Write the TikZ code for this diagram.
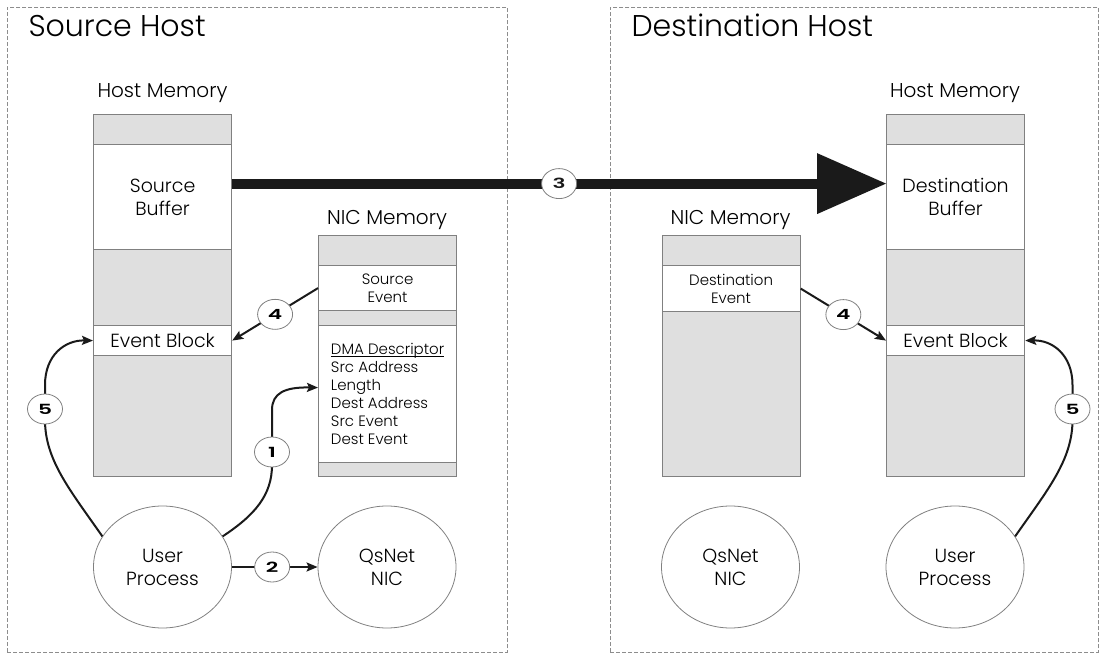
\documentclass[tikz,border=0pt]{standalone}
\usepackage{graphicx}
\usepackage{fontspec}
\setmainfont{Poppins}[UprightFont=*-Light,BoldFont=*-SemiBold]
\usetikzlibrary{arrows.meta,shapes.geometric}
\definecolor{memgrey}{HTML}{DFDFDF}
\definecolor{edgegrey}{HTML}{808080}
\definecolor{inkblack}{HTML}{1A1A1A}
\newcommand\steplbl[1]{\scalebox{1.55}[1]{#1}}
% underline drawn just under the baseline
\newcommand\tightul[1]{\setbox0\hbox{#1}\rlap{\rule[-1.6pt]{\wd0}{0.7pt}}\box0}
\begin{document}
\begin{tikzpicture}[x=1pt,y=-1pt,
  hostbox/.style={draw=edgegrey!90, dash pattern=on 4pt off 2pt, line width=0.8pt,
    anchor=north west, inner sep=0pt},
  memcell/.style={draw=edgegrey, line width=1.2pt, anchor=north west, inner sep=0pt,
    minimum width=138pt},
  greycell/.style={memcell, fill=memgrey},
  whitecell/.style={memcell, fill=white, align=center},
  bigtxt/.style={font=\fontsize{19}{23}\selectfont},
  smalltxt/.style={font=\fontsize{15}{18}\selectfont},
  proc/.style={ellipse, draw=edgegrey, line width=0.8pt, minimum width=138pt,
    minimum height=122pt, inner sep=0pt, align=center, bigtxt},
  memtitle/.style={font=\fontsize{20}{24}\selectfont},
  hosttitle/.style={anchor=base west, font=\fontsize{30}{36}\selectfont},
  num/.style={ellipse, draw=edgegrey, fill=white, line width=0.8pt, minimum width=35pt,
    minimum height=30pt, inner sep=0pt, font=\fontsize{14}{14}\selectfont\bfseries},
  flow/.style={draw=inkblack, line width=2pt, -{Stealth[length=11pt,width=9pt,inset=2pt]}},
]
\useasboundingbox (0,0) rectangle (1102,658);

% host frames and titles
\node[hostbox, minimum width=500pt, minimum height=645pt] (srchost) at (7,7) {};
\node[hostbox, minimum width=488pt, minimum height=645pt] (dsthost) at (610,7) {};
\node[hosttitle] (srctitle) at (25,37) {Source Host};
\node[hosttitle] (dsttitle) at (628,37) {Destination Host};

% source host memory
\node[memtitle] (shmlbl) at (162.5,93) {Host Memory};
\node[greycell, minimum height=30pt] (shm0) at (93,114) {};
\node[whitecell, minimum height=105pt, bigtxt] (sbuf) at (93,144) {Source\\Buffer};
\node[greycell, minimum height=76pt] (shm1) at (93,249) {};
\node[whitecell, minimum height=30pt, bigtxt] (sevb) at (93,325) {Event Block};
\node[greycell, minimum height=121pt] (shm2) at (93,355) {};

% source NIC memory
\node[memtitle] (snmlbl) at (387,220) {NIC Memory};
\node[greycell, minimum height=30pt] (snm0) at (318,235) {};
\node[whitecell, minimum height=45pt, smalltxt] (sev) at (318,265) {Source\\Event};
\node[greycell, minimum height=15pt] (snm1) at (318,310) {};
\node[whitecell, minimum height=137pt, align=left, smalltxt] (dma) at (318,325)
  {\tightul{DMA Descriptor}\\Src Address\\Length\\Dest Address\\Src Event\\Dest Event};
\node[greycell, minimum height=14pt] (snm2) at (318,462) {};

% destination NIC memory
\node[memtitle] (dnmlbl) at (730.5,220) {NIC Memory};
\node[greycell, minimum height=30pt] (dnm0) at (661.5,235) {};
\node[whitecell, minimum height=46pt, smalltxt] (dev) at (661.5,265) {Destination\\Event};
\node[greycell, minimum height=165pt] (dnm1) at (661.5,311) {};

% destination host memory
\node[memtitle] (dhmlbl) at (955,93) {Host Memory};
\node[greycell, minimum height=30pt] (dhm0) at (886,114) {};
\node[whitecell, minimum height=105pt, bigtxt] (dbuf) at (886,144) {Destination\\Buffer};
\node[greycell, minimum height=76pt] (dhm1) at (886,249) {};
\node[whitecell, minimum height=30pt, bigtxt] (devb) at (886,325) {Event Block};
\node[greycell, minimum height=121pt] (dhm2) at (886,355) {};

% processes and NICs
\node[proc] (susr) at (162.5,567) {User\\Process};
\node[proc] (sqs) at (387,567) {QsNet\\NIC};
\node[proc] (dqs) at (730.5,567) {QsNet\\NIC};
\node[proc] (dusr) at (955,567) {User\\Process};

% step 3: bulk transfer between the buffers
\draw[inkblack, line width=10pt,
  -{Triangle[length=69pt,width=61pt,line width=0pt]}]
  ([yshift=13.5pt]sbuf.east) -- node[num] (n3) {\steplbl{3}} ([yshift=13.5pt]dbuf.west);

% step 4: events written into the event blocks
\draw[flow] (sev.west) -- node[num] (n4s) {\steplbl{4}} (sevb.east);
\draw[flow] (dev.east) -- node[num] (n4d) {\steplbl{4}} (devb.west);

% step 1: descriptor written to NIC memory
\draw[flow] (susr.27) .. controls (255,515) and (272,495) .. (272,465) -- (272,410)
  .. controls (272,393) and (285,387) .. ([yshift=6.5pt]dma.west);
\node[num] (n1) at (272,452) {\steplbl{1}};

% step 2: DMA started on the NIC
\draw[flow] (susr.east) -- node[num, pos=0.47] (n2) {\steplbl{2}} (sqs.west);

% step 5: processes wait on their event blocks
\draw[flow] (susr.153) .. controls (70,490) and (45,460) .. (45,420) -- (45,385)
  .. controls (45,355) and (65,340) .. (sevb.west);
\node[num] (n5s) at (45,409) {\steplbl{5}};
\draw[flow] (dusr.27) .. controls (1047.5,490) and (1072.5,460) .. (1072.5,420) -- (1072.5,385)
  .. controls (1072.5,355) and (1052.5,340) .. (devb.east);
\node[num] (n5d) at (1072.5,409) {\steplbl{5}};
\end{tikzpicture}
\end{document}
